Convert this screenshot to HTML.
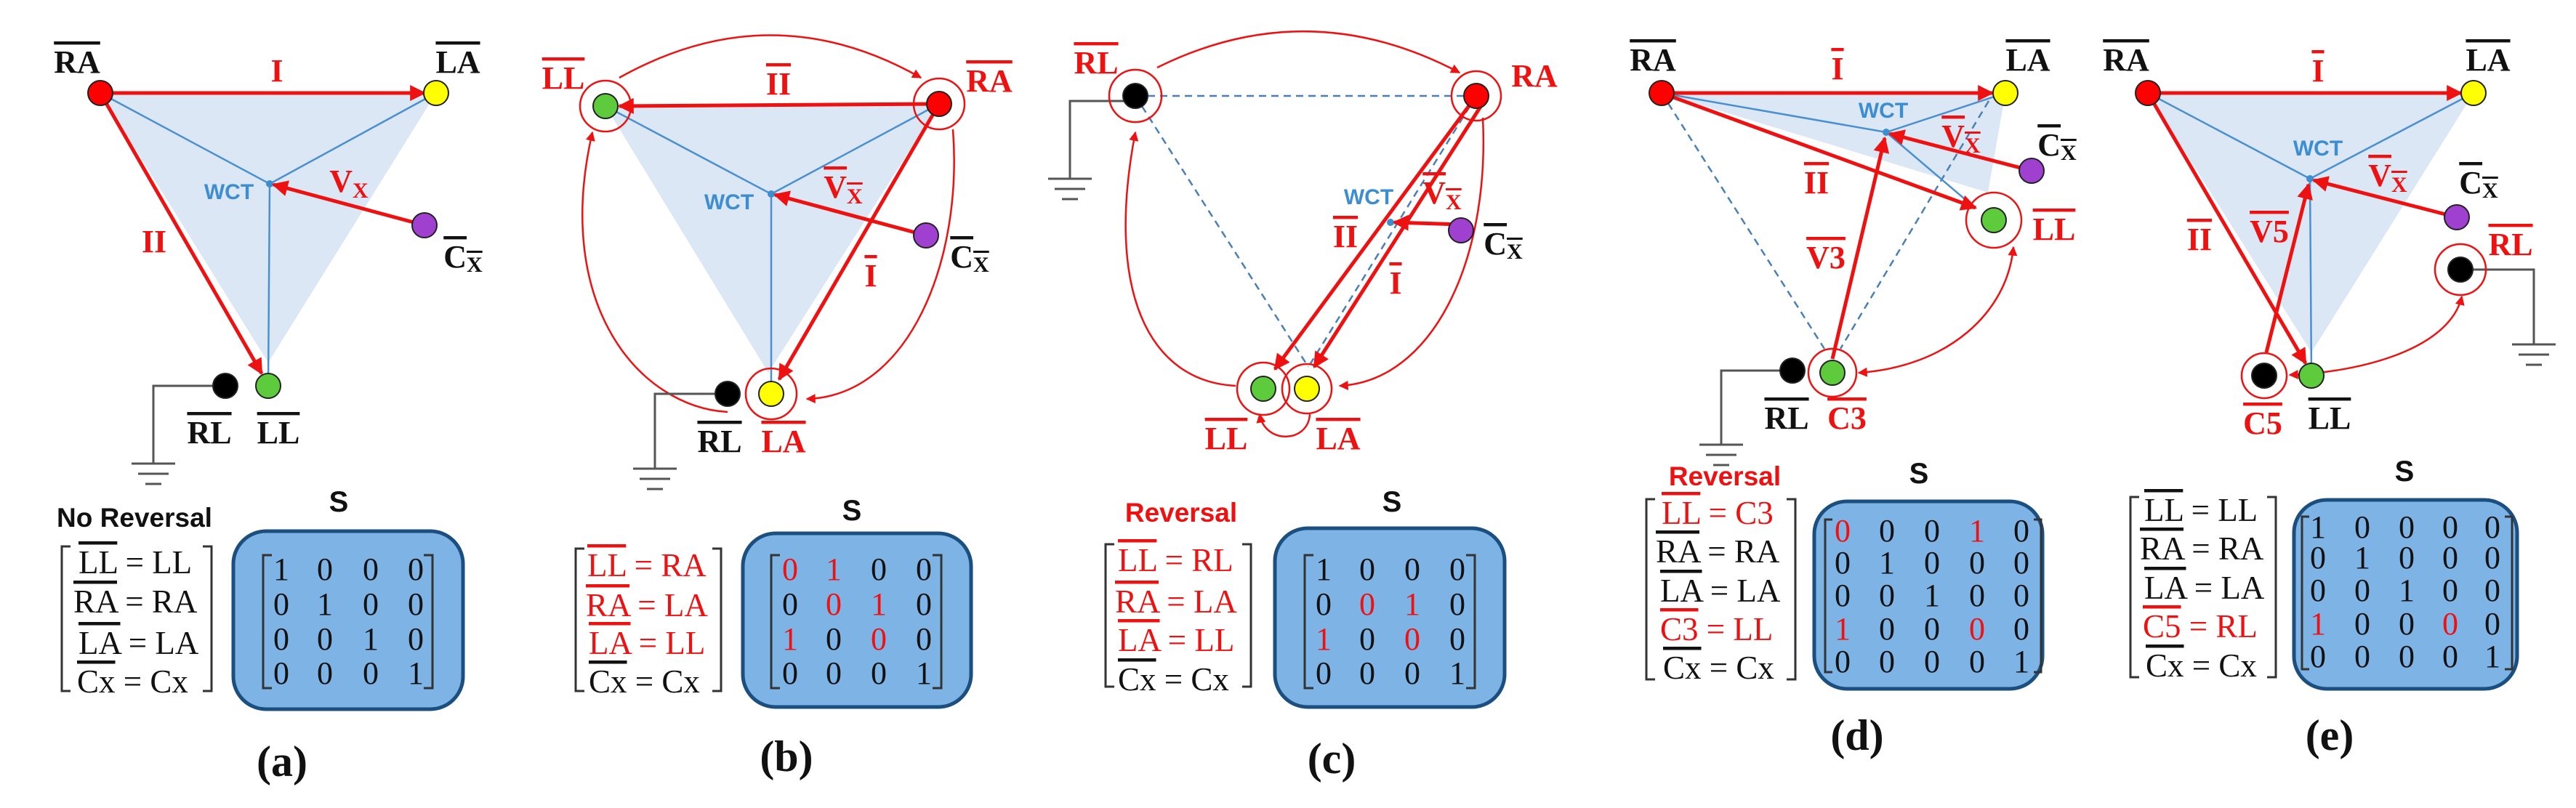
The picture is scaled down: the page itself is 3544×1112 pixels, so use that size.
<!DOCTYPE html>
<html><head><meta charset="utf-8"><style>
html,body{margin:0;padding:0;background:#fff}
svg{display:block}
.n{font:bold 44px "Liberation Serif",serif;text-anchor:middle}
.ov{text-decoration:overline}
.k{fill:#111}.r{fill:#ee1111}
.w{font:bold 30px "Liberation Sans",sans-serif;fill:#3d8ed0;text-anchor:middle}
.e{font:45px "Liberation Serif",serif}
.m{font:44px "Liberation Serif",serif;text-anchor:middle}
.h{font:bold 37px "Liberation Sans",sans-serif;text-anchor:middle}
.s{font:bold 40px "Liberation Sans",sans-serif;text-anchor:middle;fill:#111}
.cap{font:bold 60px "Liberation Serif",serif;text-anchor:middle;fill:#111}
.tri{fill:#dbe7f4}
.bl{stroke:#4a90d0;stroke-width:2.5;fill:none}
.dash{stroke:#4a7fb8;stroke-width:2.5;stroke-dasharray:10,7;fill:none}
.rt{stroke:#ee1111;stroke-width:5;fill:none}
.ra{stroke:#ee1111;stroke-width:2.5;fill:none}
.ring{stroke:#ee1111;stroke-width:2.5;fill:none}
.gnd{stroke:#555;stroke-width:3;fill:none}
.box{fill:#7eb3e6;stroke:#1b4f80;stroke-width:5}
.br{stroke:#333;stroke-width:3;fill:none}
.nd{stroke:#222;stroke-width:2}
</style></head><body>
<svg width="3544" height="1112" viewBox="0 0 3544 1112" xmlns="http://www.w3.org/2000/svg">
<defs>
<marker id="ah" viewBox="0 0 10 10" refX="9" refY="5" markerWidth="28" markerHeight="22" markerUnits="userSpaceOnUse" orient="auto"><path d="M0,0 L10,5 L0,10 z" fill="#ee1111"/></marker>
<marker id="as" viewBox="0 0 10 10" refX="9" refY="5" markerWidth="16" markerHeight="13" markerUnits="userSpaceOnUse" orient="auto-start-reverse"><path d="M0,0 L10,5 L0,10 z" fill="#ee1111"/></marker>
</defs>

<!-- ===== (a) ===== -->
<polygon class="tri" points="138,128 600,128 369,499"/>
<path class="bl" d="M138,128 L371,253 L600,128 M371,253 L369,531"/>
<circle cx="371" cy="253" r="5" fill="#3d8ed0"/>
<line class="rt" x1="138" y1="128" x2="584" y2="128" marker-end="url(#ah)"/>
<line class="rt" x1="138" y1="128" x2="360" y2="514" marker-end="url(#ah)"/>
<line class="rt" x1="584" y1="310" x2="376" y2="254" marker-end="url(#ah)"/>
<path class="gnd" d="M293,531 L211,531 L211,638 M181,638 h60 M190,652 h42 M200,666 h22"/>
<circle class="nd" cx="138" cy="128" r="17" fill="#ff0000"/>
<circle class="nd" cx="600" cy="128" r="17" fill="#ffff00"/>
<circle class="nd" cx="584" cy="310" r="17" fill="#a040d0"/>
<circle class="nd" cx="369" cy="531" r="17" fill="#5ecb3c"/>
<circle class="nd" cx="310" cy="531" r="17" fill="#000"/>
<text class="n k ov" x="106" y="100">RA</text>
<text class="n k ov" x="630" y="100">LA</text>
<text class="n r" x="381" y="112">I</text>
<text class="n r" x="212" y="347">II</text>
<text class="n r" x="480" y="264">V<tspan font-size="30" dy="8">X</tspan></text>
<text class="n k ov" x="637" y="368">C<tspan font-size="30" dy="6">X</tspan></text>
<text class="n k ov" x="288" y="610">RL</text>
<text class="n k ov" x="383" y="610">LL</text>
<text class="w" x="315" y="274">WCT</text>
<text class="h k" x="185" y="725">No Reversal</text>
<path class="br" d="M97,752 h-12 v199 h12 M279,752 h12 v199 h-12"/>
<text class="e k" x="108" y="789"><tspan class="ov">LL</tspan> = LL</text>
<text class="e k" x="101" y="843"><tspan class="ov">RA</tspan> = RA</text>
<text class="e k" x="108" y="900"><tspan class="ov">LA</tspan> = LA</text>
<text class="e k" x="106" y="953"><tspan class="ov">Cx</tspan> = Cx</text>
<text class="s" x="466" y="704">S</text>
<rect class="box" x="321" y="731" width="316" height="245" rx="45"/>
<path class="br" d="M374,764 h-12 v183 h12 M583,764 h12 v183 h-12"/>
<g class="m k"><text x="387" y="798">1</text><text x="447" y="798">0</text><text x="510" y="798">0</text><text x="572" y="798">0</text>
<text x="387" y="846">0</text><text x="447" y="846">1</text><text x="510" y="846">0</text><text x="572" y="846">0</text>
<text x="387" y="894">0</text><text x="447" y="894">0</text><text x="510" y="894">1</text><text x="572" y="894">0</text>
<text x="387" y="941">0</text><text x="447" y="941">0</text><text x="510" y="941">0</text><text x="572" y="941">1</text></g>
<text class="cap" x="388" y="1068">(a)</text>

<!-- ===== (b) ===== -->
<polygon class="tri" points="833,146 1292,143 1057,513"/>
<path class="bl" d="M833,146 L1061,267 L1292,143 M1061,267 L1061,542"/>
<circle cx="1061" cy="267" r="5" fill="#3d8ed0"/>
<path class="ra" d="M852,107 Q1061,-10 1267,107" marker-end="url(#as)"/>
<path class="ra" d="M1001,567 C880,560 760,420 815,182" marker-end="url(#as)"/>
<path class="ra" d="M1311,178 C1325,360 1250,545 1110,549" marker-end="url(#as)"/>
<line class="rt" x1="1292" y1="143" x2="852" y2="146" marker-end="url(#ah)"/>
<line class="rt" x1="1292" y1="143" x2="1072" y2="522" marker-end="url(#ah)"/>
<line class="rt" x1="1274" y1="324" x2="1066" y2="268" marker-end="url(#ah)"/>
<path class="gnd" d="M990,542 L901,542 L901,645 M871,645 h60 M880,659 h42 M890,673 h22"/>
<circle class="ring" cx="833" cy="146" r="35"/>
<circle class="ring" cx="1292" cy="143" r="35"/>
<circle class="ring" cx="1061" cy="542" r="35"/>
<circle class="nd" cx="833" cy="146" r="17" fill="#5ecb3c"/>
<circle class="nd" cx="1292" cy="143" r="17" fill="#ff0000"/>
<circle class="nd" cx="1274" cy="324" r="17" fill="#a040d0"/>
<circle class="nd" cx="1061" cy="542" r="17" fill="#ffff00"/>
<circle class="nd" cx="1001" cy="542" r="17" fill="#000"/>
<text class="n r ov" x="775" y="122">LL</text>
<text class="n r ov" x="1361" y="126">RA</text>
<text class="n r ov" x="1071" y="130">II</text>
<text class="n r ov" x="1160" y="272">V<tspan font-size="30" dy="8">X</tspan></text>
<text class="n r ov" x="1198" y="394">I</text>
<text class="n k ov" x="1334" y="368">C<tspan font-size="30" dy="6">X</tspan></text>
<text class="n k ov" x="990" y="622">RL</text>
<text class="n r ov" x="1078" y="622">LA</text>
<text class="w" x="1003" y="288">WCT</text>
<path class="br" d="M804,755 h-12 v196 h12 M980,755 h12 v196 h-12"/>
<text class="e r" x="808" y="793"><tspan class="ov">LL</tspan> = RA</text>
<text class="e r" x="806" y="848"><tspan class="ov">RA</tspan> = LA</text>
<text class="e r" x="810" y="900"><tspan class="ov">LA</tspan> = LL</text>
<text class="e k" x="810" y="953"><tspan class="ov">Cx</tspan> = Cx</text>
<text class="s" x="1172" y="716">S</text>
<rect class="box" x="1022" y="734" width="314" height="239" rx="45"/>
<path class="br" d="M1073,764 h-12 v183 h12 M1283,764 h12 v183 h-12"/>
<g class="m"><text class="r" x="1087" y="798">0</text><text class="r" x="1147" y="798">1</text><text class="k" x="1209" y="798">0</text><text class="k" x="1271" y="798">0</text>
<text class="k" x="1087" y="846">0</text><text class="r" x="1147" y="846">0</text><text class="r" x="1209" y="846">1</text><text class="k" x="1271" y="846">0</text>
<text class="r" x="1087" y="894">1</text><text class="k" x="1147" y="894">0</text><text class="r" x="1209" y="894">0</text><text class="k" x="1271" y="894">0</text>
<text class="k" x="1087" y="941">0</text><text class="k" x="1147" y="941">0</text><text class="k" x="1209" y="941">0</text><text class="k" x="1271" y="941">1</text></g>
<text class="cap" x="1082" y="1061">(b)</text>

<!-- ===== (c) ===== -->
<path class="dash" d="M1562,132 L2031,132 M1562,132 L1800,505 M2031,132 L1800,505"/>
<circle cx="1913" cy="306" r="5" fill="#3d8ed0"/>
<path class="ra" d="M1592,93 Q1800,-10 2008,100" marker-end="url(#as)"/>
<path class="ra" d="M1700,531 C1580,525 1520,400 1562,182" marker-end="url(#as)"/>
<path class="ra" d="M2040,162 C2050,360 1970,525 1843,531" marker-end="url(#as)"/>
<path class="ra" d="M1802,570 C1800,610 1740,612 1733,570" marker-end="url(#as)"/>
<line class="rt" x1="2031" y1="132" x2="1754" y2="508" marker-end="url(#ah)"/>
<line class="rt" x1="2040" y1="142" x2="1808" y2="505" marker-end="url(#ah)"/>
<line class="rt" x1="2010" y1="309" x2="1918" y2="306" marker-end="url(#ah)"/>
<path class="gnd" d="M1560,139 L1472,139 L1472,246 M1442,246 h60 M1451,260 h42 M1461,274 h22"/>
<circle class="ring" cx="1562" cy="132" r="36"/>
<circle class="ring" cx="2031" cy="132" r="34"/>
<circle class="ring" cx="1738" cy="535" r="36"/>
<circle class="ring" cx="1798" cy="535" r="34"/>
<circle class="nd" cx="1562" cy="132" r="17" fill="#000"/>
<circle class="nd" cx="2031" cy="132" r="17" fill="#ff0000"/>
<circle class="nd" cx="2010" cy="317" r="17" fill="#a040d0"/>
<circle class="nd" cx="1738" cy="535" r="17" fill="#5ecb3c"/>
<circle class="nd" cx="1798" cy="535" r="17" fill="#ffff00"/>
<text class="n r ov" x="1508" y="101">RL</text>
<text class="n r" x="2111" y="119">RA</text>
<text class="w" x="1883" y="281">WCT</text>
<text class="n r ov" x="1984" y="280">V<tspan font-size="30" dy="8">X</tspan></text>
<text class="n r ov" x="1851" y="340">II</text>
<text class="n r ov" x="1920" y="404">I</text>
<text class="n k ov" x="2068" y="350">C<tspan font-size="30" dy="6">X</tspan></text>
<text class="n r ov" x="1687" y="618">LL</text>
<text class="n r ov" x="1841" y="618">LA</text>
<text class="h r" x="1625" y="718">Reversal</text>
<path class="br" d="M1533,749 h-12 v196 h12 M1709,749 h12 v196 h-12"/>
<text class="e r" x="1538" y="786"><tspan class="ov">LL</tspan> = RL</text>
<text class="e r" x="1534" y="843"><tspan class="ov">RA</tspan> = LA</text>
<text class="e r" x="1538" y="896"><tspan class="ov">LA</tspan> = LL</text>
<text class="e k" x="1538" y="950"><tspan class="ov">Cx</tspan> = Cx</text>
<text class="s" x="1915" y="704">S</text>
<rect class="box" x="1754" y="727" width="316" height="246" rx="45"/>
<path class="br" d="M1807,764 h-12 v183 h12 M2017,764 h12 v183 h-12"/>
<g class="m"><text class="k" x="1821" y="798">1</text><text class="k" x="1881" y="798">0</text><text class="k" x="1943" y="798">0</text><text class="k" x="2005" y="798">0</text>
<text class="k" x="1821" y="846">0</text><text class="r" x="1881" y="846">0</text><text class="r" x="1943" y="846">1</text><text class="k" x="2005" y="846">0</text>
<text class="r" x="1821" y="894">1</text><text class="k" x="1881" y="894">0</text><text class="r" x="1943" y="894">0</text><text class="k" x="2005" y="894">0</text>
<text class="k" x="1821" y="941">0</text><text class="k" x="1881" y="941">0</text><text class="k" x="1943" y="941">0</text><text class="k" x="2005" y="941">1</text></g>
<text class="cap" x="1832" y="1064">(c)</text>

<!-- ===== (d) ===== -->
<polygon class="tri" points="2286,128 2759,128 2735,265"/>
<path class="dash" d="M2286,128 L2510,480 M2736,139 L2532,480"/>
<path class="bl" d="M2286,128 L2595,182 L2759,128 M2595,182 L2716,285"/>
<circle cx="2595" cy="182" r="5" fill="#3d8ed0"/>
<path class="ra" d="M2557,513 C2680,505 2762,430 2770,340" marker-start="url(#as)" marker-end="url(#as)"/>
<line class="rt" x1="2286" y1="128" x2="2741" y2="128" marker-end="url(#ah)"/>
<line class="rt" x1="2286" y1="128" x2="2718" y2="286" marker-end="url(#ah)"/>
<line class="rt" x1="2521" y1="494" x2="2593" y2="190" marker-end="url(#ah)"/>
<line class="rt" x1="2795" y1="235" x2="2600" y2="184" marker-end="url(#ah)"/>
<path class="gnd" d="M2452,510 L2368,510 L2368,612 M2338,612 h60 M2347,626 h42 M2357,640 h22"/>
<circle class="ring" cx="2743" cy="303" r="38"/>
<circle class="ring" cx="2521" cy="513" r="33"/>
<circle class="nd" cx="2286" cy="128" r="17" fill="#ff0000"/>
<circle class="nd" cx="2759" cy="128" r="17" fill="#ffff00"/>
<circle class="nd" cx="2795" cy="235" r="17" fill="#a040d0"/>
<circle class="nd" cx="2743" cy="303" r="17" fill="#5ecb3c"/>
<circle class="nd" cx="2521" cy="513" r="17" fill="#5ecb3c"/>
<circle class="nd" cx="2466" cy="510" r="17" fill="#000"/>
<text class="n k ov" x="2274" y="97">RA</text>
<text class="n r ov" x="2528" y="109">I</text>
<text class="n k ov" x="2790" y="97">LA</text>
<text class="w" x="2591" y="162">WCT</text>
<text class="n r ov" x="2698" y="202">V<tspan font-size="30" dy="8">X</tspan></text>
<text class="n k ov" x="2830" y="214">C<tspan font-size="30" dy="6">X</tspan></text>
<text class="n r ov" x="2499" y="266">II</text>
<text class="n r ov" x="2512" y="369">V3</text>
<text class="n r ov" x="2826" y="330">LL</text>
<text class="n k ov" x="2458" y="590">RL</text>
<text class="n r ov" x="2541" y="590">C3</text>
<text class="h r" x="2373" y="668">Reversal</text>
<path class="br" d="M2277,687 h-12 v248 h12 M2458,687 h12 v248 h-12"/>
<text class="e r" x="2286" y="721"><tspan class="ov">LL</tspan> = C3</text>
<text class="e k" x="2278" y="774"><tspan class="ov">RA</tspan> = RA</text>
<text class="e k" x="2284" y="828"><tspan class="ov">LA</tspan> = LA</text>
<text class="e r" x="2284" y="881"><tspan class="ov">C3</tspan> = LL</text>
<text class="e k" x="2288" y="934"><tspan class="ov">Cx</tspan> = Cx</text>
<text class="s" x="2640" y="665">S</text>
<rect class="box" x="2496" y="690" width="314" height="258" rx="45"/>
<path class="br" d="M2521,715 h-10 v210 h10 M2798,715 h10 v210 h-10"/>
<g class="m"><text class="r" x="2535" y="745">0</text><text class="k" x="2596" y="745">0</text><text class="k" x="2658" y="745">0</text><text class="r" x="2720" y="745">1</text><text class="k" x="2781" y="745">0</text>
<text class="k" x="2535" y="789">0</text><text class="k" x="2596" y="789">1</text><text class="k" x="2658" y="789">0</text><text class="k" x="2720" y="789">0</text><text class="k" x="2781" y="789">0</text>
<text class="k" x="2535" y="834">0</text><text class="k" x="2596" y="834">0</text><text class="k" x="2658" y="834">1</text><text class="k" x="2720" y="834">0</text><text class="k" x="2781" y="834">0</text>
<text class="r" x="2535" y="880">1</text><text class="k" x="2596" y="880">0</text><text class="k" x="2658" y="880">0</text><text class="r" x="2720" y="880">0</text><text class="k" x="2781" y="880">0</text>
<text class="k" x="2535" y="925">0</text><text class="k" x="2596" y="925">0</text><text class="k" x="2658" y="925">0</text><text class="k" x="2720" y="925">0</text><text class="k" x="2781" y="925">1</text></g>
<text class="cap" x="2555" y="1032">(d)</text>

<!-- ===== (e) ===== -->
<polygon class="tri" points="2955,128 3403,128 3180,485"/>
<path class="bl" d="M2955,128 L3178,246 L3403,128 M3178,246 L3180,517"/>
<circle cx="3178" cy="246" r="5" fill="#3d8ed0"/>
<path class="ra" d="M3150,516 C3250,512 3370,480 3387,408" marker-start="url(#as)" marker-end="url(#as)"/>
<line class="rt" x1="2955" y1="128" x2="3386" y2="128" marker-end="url(#ah)"/>
<line class="rt" x1="2955" y1="128" x2="3172" y2="500" marker-end="url(#ah)"/>
<line class="rt" x1="3118" y1="485" x2="3176" y2="254" marker-end="url(#ah)"/>
<line class="rt" x1="3380" y1="299" x2="3183" y2="248" marker-end="url(#ah)"/>
<path class="gnd" d="M3402,371 L3486,371 L3486,474 M3456,474 h60 M3465,488 h42 M3475,502 h22"/>
<circle class="ring" cx="3385" cy="371" r="35"/>
<circle class="ring" cx="3115" cy="517" r="31"/>
<circle class="nd" cx="2955" cy="128" r="17" fill="#ff0000"/>
<circle class="nd" cx="3403" cy="128" r="17" fill="#ffff00"/>
<circle class="nd" cx="3380" cy="299" r="17" fill="#a040d0"/>
<circle class="nd" cx="3385" cy="371" r="17" fill="#000"/>
<circle class="nd" cx="3180" cy="517" r="17" fill="#5ecb3c"/>
<circle class="nd" cx="3115" cy="517" r="17" fill="#000"/>
<text class="n k ov" x="2925" y="97">RA</text>
<text class="n r ov" x="3189" y="112">I</text>
<text class="n k ov" x="3423" y="97">LA</text>
<text class="w" x="3189" y="214">WCT</text>
<text class="n r ov" x="3285" y="256">V<tspan font-size="30" dy="8">X</tspan></text>
<text class="n k ov" x="3410" y="266">C<tspan font-size="30" dy="6">X</tspan></text>
<text class="n r ov" x="3454" y="351">RL</text>
<text class="n r ov" x="3026" y="344">II</text>
<text class="n r ov" x="3122" y="333">V5</text>
<text class="n r ov" x="3113" y="597">C5</text>
<text class="n k ov" x="3205" y="590">LL</text>
<path class="br" d="M2943,684 h-12 v248 h12 M3119,684 h12 v248 h-12"/>
<text class="e k" x="2950" y="717"><tspan class="ov">LL</tspan> = LL</text>
<text class="e k" x="2944" y="770"><tspan class="ov">RA</tspan> = RA</text>
<text class="e k" x="2950" y="824"><tspan class="ov">LA</tspan> = LA</text>
<text class="e r" x="2948" y="877"><tspan class="ov">C5</tspan> = RL</text>
<text class="e k" x="2952" y="931"><tspan class="ov">Cx</tspan> = Cx</text>
<text class="s" x="3308" y="662">S</text>
<rect class="box" x="3156" y="688" width="307" height="260" rx="45"/>
<path class="br" d="M3177,711 h-10 v210 h10 M3446,711 h10 v210 h-10"/>
<g class="m"><text class="k" x="3189" y="740">1</text><text class="k" x="3250" y="740">0</text><text class="k" x="3311" y="740">0</text><text class="k" x="3371" y="740">0</text><text class="k" x="3429" y="740">0</text>
<text class="k" x="3189" y="782">0</text><text class="k" x="3250" y="782">1</text><text class="k" x="3311" y="782">0</text><text class="k" x="3371" y="782">0</text><text class="k" x="3429" y="782">0</text>
<text class="k" x="3189" y="827">0</text><text class="k" x="3250" y="827">0</text><text class="k" x="3311" y="827">1</text><text class="k" x="3371" y="827">0</text><text class="k" x="3429" y="827">0</text>
<text class="r" x="3189" y="873">1</text><text class="k" x="3250" y="873">0</text><text class="k" x="3311" y="873">0</text><text class="r" x="3371" y="873">0</text><text class="k" x="3429" y="873">0</text>
<text class="k" x="3189" y="918">0</text><text class="k" x="3250" y="918">0</text><text class="k" x="3311" y="918">0</text><text class="k" x="3371" y="918">0</text><text class="k" x="3429" y="918">1</text></g>
<text class="cap" x="3205" y="1032">(e)</text>
</svg>
</body></html>
